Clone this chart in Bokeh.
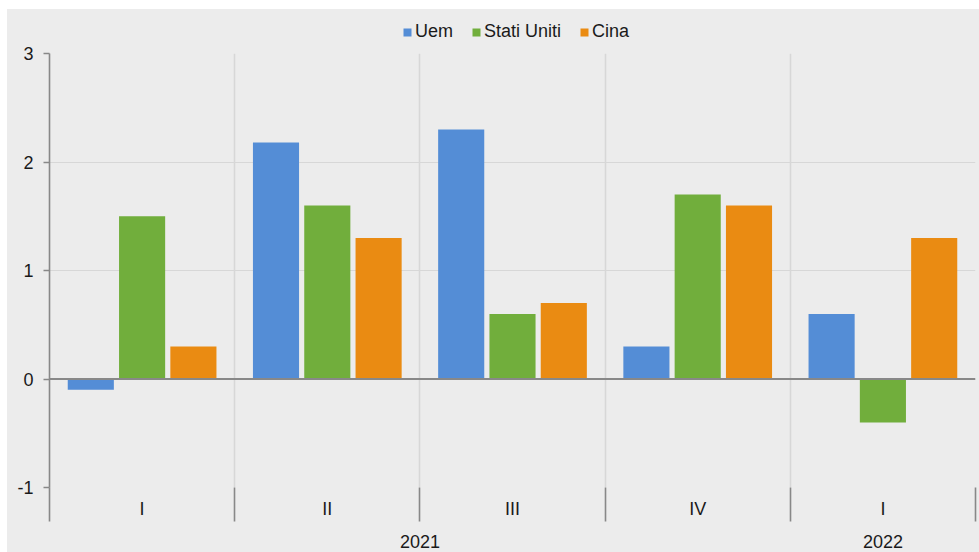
import numpy as np
from bokeh.plotting import figure
from bokeh.layouts import column
from bokeh.models import (ColumnDataSource, FixedTicker, Span, Legend, LegendItem,
                          LinearAxis, Range1d)
from bokeh.transform import dodge
from bokeh.embed import file_html
from bokeh.resources import INLINE

# ---- data ----
quarters = ["I", "II", "III", "IV", "I"]
years = ["2021", "2022"]
year_counts = [4, 1]          # quarters belonging to each year
series_names = ["Uem", "Stati Uniti", "Cina"]
uem = [-0.1, 2.18, 2.3, 0.3, 0.6]
stati_uniti = [1.5, 1.6, 0.6, 1.7, -0.4]
cina = [0.3, 1.3, 0.7, 1.6, 1.3]
y_ticks = [-1, 0, 1, 2, 3]
y_tick_labels = ["-1", "0", "1", "2", "3"]

# ---- style ----
FONT = "Liberation Sans"
BG = "#ececec"
GRID = "#d7d7d7"
AXIS = "#888888"
TEXT = "#1a1a1a"
COLORS = ["#548dd6", "#71ae3c", "#ea8b12"]
FS = "18px"

n = len(quarters)
pos = np.arange(n) + 0.5
source = ColumnDataSource(dict(pos=pos, uem=uem, stati_uniti=stati_uniti, cina=cina))

# ---- legend strip ----
leg_fig = figure(width=972, height=33, x_range=Range1d(0, 1), y_range=Range1d(0, 1),
                 output_backend="svg", toolbar_location=None,
                 x_axis_type=None, y_axis_type=None,
                 min_border_left=0, min_border_right=0, min_border_top=0, min_border_bottom=0,
                 background_fill_color=BG, border_fill_color=BG, outline_line_color=None)
leg_fig.xgrid.visible = False
leg_fig.ygrid.visible = False
# one off-screen bar per series, only so the legend has a glyph to show
dummy = ColumnDataSource(dict(x=[-5.0], top=[0.0]))
leg_renderers = [leg_fig.vbar(x="x", top="top", width=0.1, source=dummy,
                              fill_color=c, line_color=None) for c in COLORS]
legend = Legend(items=[LegendItem(label=s, renderers=[r]) for s, r in zip(series_names, leg_renderers)],
                orientation="horizontal", location=(353, 0),
                border_line_color=None, background_fill_alpha=0,
                label_text_font=FONT, label_text_font_size=FS, label_text_color=TEXT,
                glyph_width=10, glyph_height=10, label_standoff=3, spacing=18,
                padding=0, margin=0, label_height=18)
leg_fig.add_layout(legend, "center")

# ---- main chart ----
p = figure(width=972, height=510, x_range=Range1d(0, n), y_range=Range1d(-1, 3),
           output_backend="svg", toolbar_location=None,
           min_border_left=42, min_border_right=4, min_border_top=11, min_border_bottom=65,
           background_fill_color=BG, border_fill_color=BG, outline_line_color=None)

offset = 0.277
bw = 0.249
fields = ["uem", "stati_uniti", "cina"]
for i, (f, c) in enumerate(zip(fields, COLORS)):
    p.vbar(x=dodge("pos", (i - 1) * offset, range=p.x_range), top=f, bottom=0,
           width=bw, source=source, fill_color=c, line_color=None)

# grids
p.ygrid.ticker = FixedTicker(ticks=y_ticks)
p.ygrid.grid_line_color = GRID
p.ygrid.grid_line_width = 1.2
p.xgrid.ticker = FixedTicker(ticks=list(range(n + 1)))
p.xgrid.grid_line_color = GRID
p.xgrid.grid_line_width = 1.5

# zero line
p.add_layout(Span(location=0, dimension="width", line_color=AXIS, line_width=1.8))

# y axis
ya = p.yaxis[0]
ya.ticker = FixedTicker(ticks=y_ticks)
ya.major_label_overrides = {t: s for t, s in zip(y_ticks, y_tick_labels)}
ya.axis_line_color = AXIS
ya.axis_line_width = 1.6
ya.major_tick_line_color = AXIS
ya.major_tick_line_width = 1.3
ya.major_tick_out = 6
ya.major_tick_in = 0
ya.minor_tick_line_color = None
ya.major_label_standoff = 10
ya.major_label_text_font = FONT
ya.major_label_text_font_size = FS
ya.major_label_text_color = TEXT

# quarter axis (first below)
xa = p.xaxis[0]
xa.ticker = FixedTicker(ticks=list(pos), minor_ticks=list(range(n + 1)))
xa.major_label_overrides = {float(x): q for x, q in zip(pos, quarters)}
xa.axis_line_color = None
xa.major_tick_line_color = None
xa.major_tick_out = 0
xa.major_tick_in = 0
xa.minor_tick_line_color = AXIS
xa.minor_tick_line_width = 1.6
xa.minor_tick_out = 34
xa.minor_tick_in = 0
xa.major_label_standoff = -23
xa.major_label_text_font = FONT
xa.major_label_text_font_size = FS
xa.major_label_text_color = TEXT

# year axis (second below)
starts = np.concatenate([[0], np.cumsum(year_counts)[:-1]])
year_pos = starts + np.array(year_counts) / 2.0
ya2 = LinearAxis(ticker=FixedTicker(ticks=list(year_pos)),
                 major_label_overrides={float(x): y for x, y in zip(year_pos, years)},
                 axis_line_color=None, major_tick_line_color=None, minor_tick_line_color=None,
                 major_tick_out=0, major_tick_in=0, major_label_standoff=13,
                 major_label_text_font=FONT, major_label_text_font_size=FS,
                 major_label_text_color=TEXT)
p.add_layout(ya2, "below")

layout = column(leg_fig, p, spacing=0, margin=(9, 0, 0, 7),
                styles={"background-color": BG})
open("out.html", "w").write(file_html(layout, INLINE))
